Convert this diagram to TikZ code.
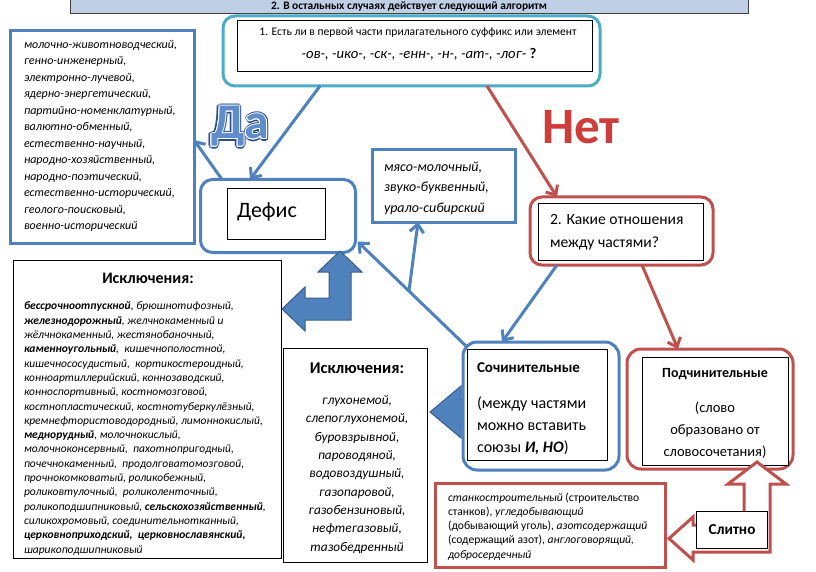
\documentclass[tikz,border=0pt]{standalone}
\usepackage{fontspec}
\setmainfont{Carlito}
\usetikzlibrary{arrows.meta}
\definecolor{accblue}{RGB}{79,129,189}
\definecolor{accred}{RGB}{192,80,77}
\definecolor{accteal}{RGB}{75,172,198}
\definecolor{bannerfill}{RGB}{190,207,230}
\definecolor{darkblue}{RGB}{56,93,138}
\definecolor{daout}{RGB}{38,78,140}
\definecolor{dafill}{RGB}{95,140,203}
\definecolor{netfill}{RGB}{205,62,58}
\newcommand\fsz[2]{\fontsize{#1}{#2}\selectfont}
\tikzset{
  outerbox/.style={rounded corners=12pt, line width=3pt, fill=white},
  plainbox/.style={draw=black, line width=0.8pt, fill=white},
  conn/.style={line width=3pt, -{Straight Barb[length=8pt,width=14pt]}},
  blockblue/.style={fill=accblue, draw=darkblue, line width=1pt, line join=miter},
  blockred/.style={fill=white, draw=accred, line width=3pt, line join=miter},
  txt/.style={anchor=base west, align=left},
  bigword/.style={anchor=base west, font=\bfseries\fsz{50}{50}},
}
\begin{document}
\begin{tikzpicture}[x=1pt,y=-1pt,every node/.style={inner sep=0pt,outer sep=0pt}]
\useasboundingbox (0,0) rectangle (816,572);
\fill[white] (0,0) rectangle (816,572);

% banner (multi-line nodes below are placed by the baseline of their LAST line)
\node[draw=black!75, line width=0.8pt, fill=bannerfill, minimum width=678pt, minimum height=20pt] (banner) at (409,3) {};
\node[font=\bfseries\fsz{11.4}{13}] (bannerT) at (409,6.5) {2. В остальных случаях действует следующий алгоритм};

% question 1
\node[outerbox, draw=accteal, minimum width=377pt, minimum height=70pt] (q1) at (411.5,51) {};
\node[plainbox, minimum width=355pt, minimum height=51pt] (q1in) at (414.5,45.5) {};
\node[font=\fsz{11.6}{13}] (q1a) at (418,33) {1. Есть ли в первой части прилагательного суффикс или элемент};
\node[font=\fsz{14.7}{16}] (q1b) at (419,54) {\itshape -ов-, -ико-, -ск-, -енн-, -н-, -ат-, -лог- \upshape\bfseries ?};

% left list
\node[draw=accblue, line width=3pt, fill=white, minimum width=184pt, minimum height=212pt] (list) at (102,137) {};
\node[txt, font=\itshape\fsz{12}{16.5}] (listT) at (24,229.5) {молочно-животноводческий,\\генно-инженерный,\\электронно-лучевой,\\ядерно-энергетический,\\партийно-номенклатурный,\\валютно-обменный,\\естественно-научный,\\народно-хозяйственный,\\народно-поэтический,\\естественно-исторический,\\геолого-поисковый,\\военно-исторический};

% Defis
\node[outerbox, draw=accblue, minimum width=155pt, minimum height=73pt] (defis) at (278,216) {};
\node[plainbox, minimum width=98pt, minimum height=51pt] (defisIn) at (276,213.5) {};
\node[anchor=base west, font=\fsz{22}{26}] (defisT) at (237,217) {Дефис};

% myaso
\node[draw=accblue, line width=3pt, fill=white, minimum width=143pt, minimum height=72pt] (myaso) at (443.5,186) {};
\node[txt, font=\itshape\fsz{14}{20.5}] (myasoT) at (384,212) {мясо-молочный,\\звуко-буквенный,\\урало-сибирский};

% question 2
\node[outerbox, draw=accred, minimum width=183pt, minimum height=68pt] (q2) at (621.5,231) {};
\node[plainbox, minimum width=165pt, minimum height=57pt] (q2in) at (620.5,231.5) {};
\node[txt, font=\fsz{15.6}{23}] (q2T) at (550,247) {2. Какие отношения\\между частями?};

% exceptions 1
\node[plainbox, minimum width=268pt, minimum height=298pt] (exc1) at (147,409) {};
\node[font=\bfseries\fsz{16}{18}] (exc1h) at (148,278) {Исключения:};
\node[txt, font=\itshape\fsz{11.5}{14.3}] (exc1T) at (24,553) {\textbf{бессрочноотпускной}, брюшнотифозный,\\\textbf{железнодорожный}, желчнокаменный и\\жёлчнокаменный, жестянобаночный,\\\textbf{каменноугольный},\ \ кишечнополостной,\\кишечнососудистый,\ \ кортикостероидный,\\конноартиллерийский, коннозаводский,\\конноспортивный, костномозговой,\\костнопластический, костнотуберкулёзный,\\кремнефтористоводородный, лимоннокислый,\\\textbf{меднорудный}, молочнокислый,\\молочноконсервный,\ \ пахотнопригодный,\\почечнокаменный,\ \ продолговатомозговой,\\прочнокомковатый, роликобежный,\\роликовтулочный,\ \ роликоленточный,\\роликоподшипниковый, \textbf{сельскохозяйственный},\\силикохромовый, соединительнотканный,\\\textbf{церковноприходский,\ \ церковнославянский,}\\шарикоподшипниковый};

% exceptions 2
\node[plainbox, minimum width=144pt, minimum height=214pt] (exc2) at (355,455) {};
\node[font=\bfseries\fsz{16.5}{18}] (exc2h) at (357,368) {Исключения:};
\node[anchor=base, align=center, font=\itshape\fsz{13.3}{18.3}] (exc2T) at (357,551) {глухонемой,\\слепоглухонемой,\\буровзрывной,\\пароводяной,\\водовоздушный,\\газопаровой,\\газобензиновый,\\нефтегазовый,\\тазобедренный};

% stanko
\node[draw=accred, line width=3pt, fill=white, minimum width=230pt, minimum height=84pt] (stanko) at (550,525) {};
\node[txt, font=\fsz{11.6}{14.2}] (stankoT) at (448,558) {\textit{станкостроительный} (строительство\\станков), \textit{угледобывающий}\\(добывающий уголь), \textit{азотсодержащий}\\(содержащий азот), \textit{англоговорящий,}\\\textit{добросердечный}};

% blue block arrow to exceptions 2
\draw[blockblue] (430,412) -- (461,386) -- (461,399) -- (470,399) -- (470,425) -- (461,425) -- (461,438) -- cycle;

% Sochinitelnye
\node[outerbox, rounded corners=14pt, draw=accblue, minimum width=156pt, minimum height=128pt] (soch) at (541,406) {};
\node[plainbox, minimum width=140pt, minimum height=111pt] (sochIn) at (537,404.5) {};
\node[anchor=base west, font=\bfseries\fsz{15}{17}] (sochH) at (477,372) {Сочинительные};
\node[txt, font=\fsz{16}{22}] (sochT) at (477,452) {(между частями\\можно вставить\\союзы \textbf{\textit{И, НО}})};

% Podchinitelnye
\node[outerbox, rounded corners=14pt, draw=accred, minimum width=166pt, minimum height=120pt] (podch) at (710,409) {};
\node[plainbox, minimum width=146pt, minimum height=108pt] (podchIn) at (715,411) {};
\node[anchor=base, font=\bfseries\fsz{14}{16}] (podchH) at (715,377) {Подчинительные};
\node[anchor=base, align=center, font=\fsz{14.5}{22}] (podchT) at (715,456) {(слово\\образовано от\\словосочетания)};

% red hollow bent arrow and Slitno
\draw[blockred] (757,462) -- (786,484) -- (770,484) -- (770,552) -- (693,552) -- (693,560) -- (669,538.5) -- (693,517) -- (693,525) -- (744,525) -- (744,484) -- (728,484) -- cycle;
\node[plainbox, minimum width=71pt, minimum height=37pt, font=\bfseries\fsz{15.2}{18}] (slitno) at (732,529.5) {Слитно};

% blue bent block arrow
\draw[blockblue] (340,251) -- (362,272) -- (351,272) -- (351,320) -- (305,320) -- (305,331) -- (282,309) -- (305,287) -- (305,298) -- (329,298) -- (329,272) -- (318,272) -- cycle;

% connectors
\draw[conn, accblue] ([xshift=-91.5pt]q1.south) -- ([xshift=-28pt]defis.north);
\draw[conn, accblue] ([xshift=-56pt]defis.north) -- ([yshift=-3pt]list.east);
\draw[conn, accred] ([xshift=75.5pt]q1.south) -- ([xshift=-64.5pt]q2.north);
\draw[conn, accblue] ([xshift=-64.5pt]q2.south) -- ([xshift=-39pt]soch.north);
\draw[conn, accred] ([xshift=20.5pt]q2.south) -- ([xshift=-32pt]podch.north);
\draw[conn, accblue] ([shift={(4,5)}]soch.north west) -- coordinate[pos=0.53] (fmid) ([shift={(2,-11)}]defis.south east);
\draw[conn, accblue] (fmid) -- ([xshift=-25.5pt]myaso.south);

% Da / Net
\foreach \a in {0,45,...,315} {
  \node[bigword, text=daout] (daO\a) at ([shift={(\a:2.3pt)}]211,139) {Да};
}
\foreach \a in {0,45,...,315} {
  \node[bigword, text=white] (daW\a) at ([shift={(\a:1pt)}]211,139) {Да};
}
\node[bigword, text=dafill] (da) at (211,139) {Да};
\node[bigword, font=\bfseries\fsz{51}{51}, text=netfill] (net) at (542,144) {Нет};
\end{tikzpicture}
\end{document}
